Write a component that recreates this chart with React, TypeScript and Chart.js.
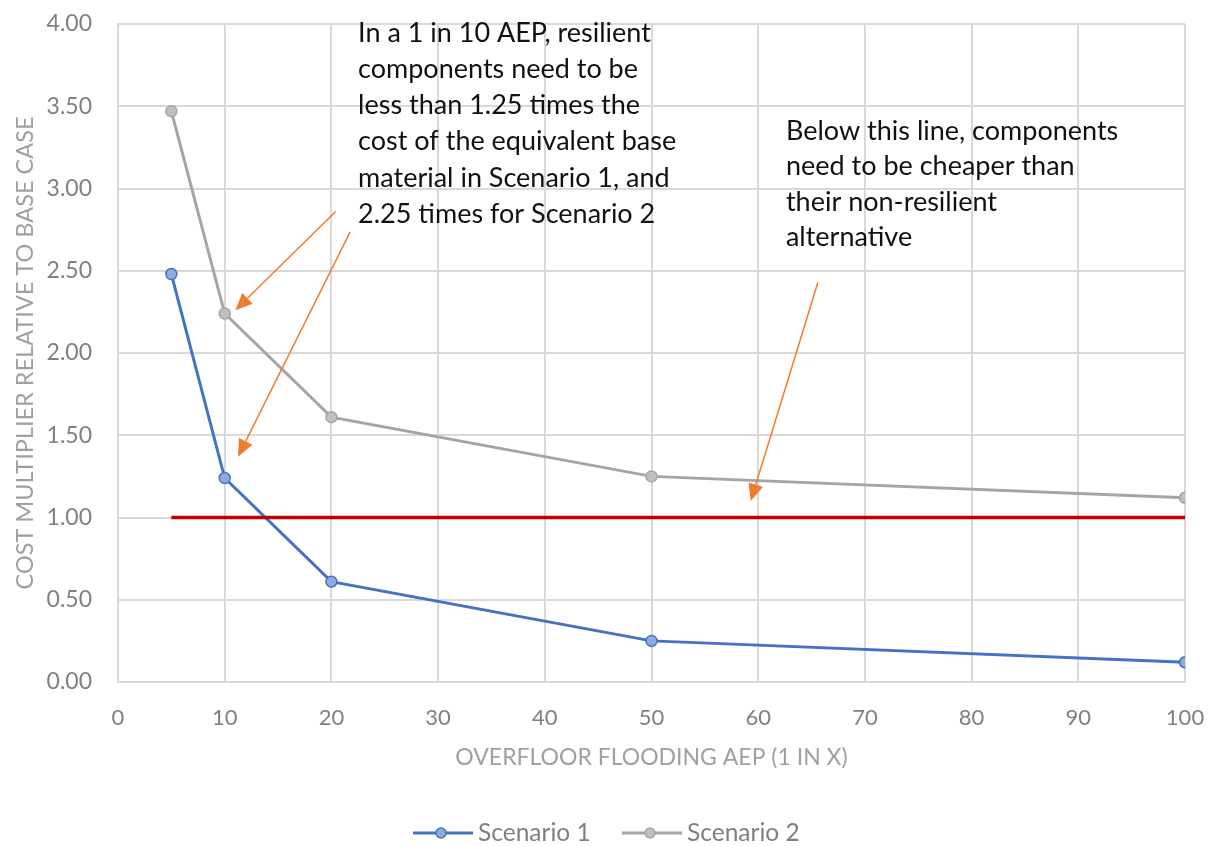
import React, { useEffect, useRef } from "react";
import { Chart, registerables } from "chart.js";

Chart.register(...registerables);

// ---- data ----
const xValues = [5, 10, 20, 50, 100];
const scenario1 = [2.48, 1.24, 0.61, 0.25, 0.12];
const scenario2 = [3.47, 2.24, 1.61, 1.25, 1.12];
const thresholdX = [5, 100];
const thresholdY = [1, 1];
const seriesNames = ["Scenario 1", "Scenario 2"];
const xTitle = "OVERFLOOR FLOODING AEP (1 IN X)";
const yTitle = "COST MULTIPLIER RELATIVE TO BASE CASE";
const note1Lines = [
  "In a 1 in 10 AEP, resilient",
  "components need to be",
  "less than 1.25 times the",
  "cost of the equivalent base",
  "material in Scenario 1, and",
  "2.25 times for Scenario 2",
];
const note2Lines = [
  "Below this line, components",
  "need to be cheaper than",
  "their non-resilient",
  "alternative",
];
// annotation anchors (data coordinates)
const note1Anchor = [22.5, 3.945];
const note2Anchor = [62.6, 3.35];
const arrowFrom = [
  [20.4, 2.86],
  [21.75, 2.735],
  [65.6, 2.43],
];
const arrowTo = [
  [11.0, 2.26],
  [11.25, 1.37],
  [59.3, 1.1],
];

const FONT = "Lato, 'Open Sans', sans-serif";
const BLUE = "#4472C4";
const BLUE_FILL = "#8FAADC";
const GRAY = "#A5A5A5";
const GRAY_FILL = "#C0C0C0";
const RED = "#C00000";
const ORANGE = "#ED7D31";

const annotationPlugin = {
  id: "notes",
  afterDatasetsDraw(chart: any) {
    const { ctx, scales } = chart;
    const xs = scales.x;
    const ys = scales.y;
    ctx.save();
    for (let i = 0; i < arrowFrom.length; i++) {
      const x1 = xs.getPixelForValue(arrowFrom[i][0]);
      const y1 = ys.getPixelForValue(arrowFrom[i][1]);
      const x2 = xs.getPixelForValue(arrowTo[i][0]);
      const y2 = ys.getPixelForValue(arrowTo[i][1]);
      const ang = Math.atan2(y2 - y1, x2 - x1);
      const headLen = 17;
      const headW = 7.5;
      const bx = x2 - headLen * Math.cos(ang);
      const by = y2 - headLen * Math.sin(ang);
      ctx.strokeStyle = ORANGE;
      ctx.lineWidth = 1.5;
      ctx.beginPath();
      ctx.moveTo(x1, y1);
      ctx.lineTo(bx, by);
      ctx.stroke();
      ctx.fillStyle = ORANGE;
      ctx.beginPath();
      ctx.moveTo(x2, y2);
      ctx.lineTo(bx + headW * Math.sin(ang), by - headW * Math.cos(ang));
      ctx.lineTo(bx - headW * Math.sin(ang), by + headW * Math.cos(ang));
      ctx.closePath();
      ctx.fill();
    }
    ctx.fillStyle = "#111111";
    ctx.font = `27px ${FONT}`;
    ctx.textAlign = "left";
    ctx.textBaseline = "middle";
    const drawLines = (lines: string[], anchor: number[], spacing: number) => {
      const x = xs.getPixelForValue(anchor[0]);
      const y = ys.getPixelForValue(anchor[1]);
      lines.forEach((l, i) => ctx.fillText(l, x, y + i * spacing));
    };
    drawLines(note1Lines, note1Anchor, 36.2);
    drawLines(note2Lines, note2Anchor, 35.5);
    ctx.restore();
  },
};

const legendPlugin = {
  id: "customLegend",
  afterDraw(chart: any) {
    const { ctx } = chart;
    const items = [
      { x: 413, color: BLUE, fill: BLUE_FILL, label: seriesNames[0] },
      { x: 622, color: GRAY, fill: GRAY_FILL, label: seriesNames[1] },
    ];
    const y = 833;
    ctx.save();
    items.forEach((it) => {
      ctx.strokeStyle = it.color;
      ctx.lineWidth = 3;
      ctx.beginPath();
      ctx.moveTo(it.x, y);
      ctx.lineTo(it.x + 60, y);
      ctx.stroke();
      ctx.beginPath();
      ctx.arc(it.x + 28, y, 5, 0, Math.PI * 2);
      ctx.fillStyle = it.fill;
      ctx.fill();
      ctx.lineWidth = 1.5;
      ctx.stroke();
      ctx.fillStyle = "#808080";
      ctx.font = `24.5px ${FONT}`;
      ctx.textAlign = "left";
      ctx.textBaseline = "middle";
      ctx.fillText(it.label, it.x + 65, y);
    });
    ctx.restore();
  },
};

export default function App() {
  const ref = useRef<HTMLCanvasElement | null>(null);
  useEffect(() => {
    document.body.style.margin = "0";
    const toPts = (ys: number[], xsArr: number[]) => xsArr.map((x, i) => ({ x, y: ys[i] }));
    const chart = new Chart(ref.current as HTMLCanvasElement, {
      type: "line",
      data: {
        datasets: [
          {
            label: "threshold",
            data: toPts(thresholdY, thresholdX),
            borderColor: RED,
            borderWidth: 3.5,
            pointRadius: 0,
            fill: false,
          },
          {
            label: seriesNames[0],
            data: toPts(scenario1, xValues),
            borderColor: BLUE,
            backgroundColor: BLUE_FILL,
            borderWidth: 3,
            pointRadius: 5.5,
            pointBorderWidth: 1.5,
            pointBorderColor: BLUE,
            pointBackgroundColor: BLUE_FILL,
            fill: false,
          },
          {
            label: seriesNames[1],
            data: toPts(scenario2, xValues),
            borderColor: GRAY,
            backgroundColor: GRAY_FILL,
            borderWidth: 3,
            pointRadius: 5.5,
            pointBorderWidth: 1.5,
            pointBorderColor: GRAY,
            pointBackgroundColor: GRAY_FILL,
            fill: false,
          },
        ],
      },
      options: {
        responsive: false,
        animation: false,
        layout: { padding: { left: 0, right: 29, top: 24, bottom: 75 } },
        plugins: {
          legend: { display: false },
          tooltip: { enabled: false },
        },
        scales: {
          x: {
            type: "linear",
            min: 0,
            max: 100,
            ticks: {
              stepSize: 10,
              color: "#808080",
              font: { family: FONT, size: 22 },
              padding: 23,
            },
            grid: { color: "#D9D9D9", lineWidth: 2, drawTicks: false },
            border: { color: "#D9D9D9", width: 2 },
            title: {
              display: true,
              text: xTitle,
              color: "#A0A0A0",
              font: { family: FONT, size: 23 },
              padding: { top: 0, bottom: 0 },
            },
            afterFit: (s: any) => {
              s.height = 89;
              s.paddingLeft = 0;
              s.paddingRight = 0;
            },
          },
          y: {
            type: "linear",
            min: 0,
            max: 4,
            ticks: {
              stepSize: 0.25,
              color: "#808080",
              font: { family: FONT, size: 23 },
              padding: 26,
              callback: (v: any) => (Math.abs((v * 2) % 1) < 1e-6 ? Number(v).toFixed(2) : null),
            },
            grid: {
              color: (c: any) =>
                Math.abs((c.tick.value * 2) % 1) < 1e-6 ? "#D9D9D9" : "#EFEFEF",
              lineWidth: 2,
              drawTicks: false,
            },
            border: { color: "#D9D9D9", width: 2 },
            title: {
              display: true,
              text: yTitle,
              color: "#A0A0A0",
              font: { family: FONT, size: 23.5 },
              padding: { top: 11, bottom: 0 },
            },
            afterFit: (s: any) => {
              s.width = 118;
              s.paddingTop = 0;
              s.paddingBottom = 0;
            },
          },
        },
      },
      plugins: [annotationPlugin, legendPlugin],
    } as any);
    return () => chart.destroy();
  }, []);
  return (
    <div style={{ width: 1214, height: 846 }}>
      <canvas ref={ref} width={1214} height={846} />
    </div>
  );
}
